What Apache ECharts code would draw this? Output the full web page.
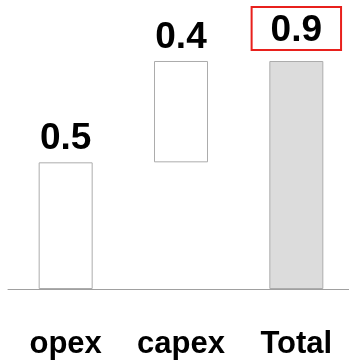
<!DOCTYPE html>
<html>
<head>
<meta charset="utf-8">
<script src="https://cdn.jsdelivr.net/npm/echarts@6/dist/echarts.min.js"></script>
<style>
  html, body { margin: 0; padding: 0; background: #fff; overflow: hidden; }
  #chart { width: 354px; height: 363px; }
</style>
</head>
<body>
<div id="chart"></div>
<script>
// Cost breakdown waterfall
const categories = ['opex', 'capex', 'Total'];
const amounts = [0.5, 0.4, 0.9];
const isTotal = [false, false, true];

// Invisible offset under each step: running sum for steps, zero for totals
const offsets = [];
let running = 0;
amounts.forEach(function (v, i) {
  if (isTotal[i]) {
    offsets.push(0);
  } else {
    offsets.push(running);
    running += v;
  }
});

const FONT = '"Liberation Sans", Arial, Helvetica, sans-serif';

const chart = echarts.init(document.getElementById('chart'), null, { renderer: 'canvas' });

chart.setOption({
  animation: false,
  backgroundColor: '#ffffff',
  grid: { left: 8, right: 0, top: 61, bottom: 74, containLabel: false },
  xAxis: {
    type: 'category',
    data: categories,
    axisLine: { show: true, lineStyle: { color: '#a0a0a0', width: 1 } },
    axisTick: { show: false },
    axisLabel: {
      interval: 0,
      hideOverlap: false,
      color: '#000',
      fontFamily: FONT,
      fontWeight: 'bold',
      fontSize: 31,
      lineHeight: 31,
      margin: 40
    }
  },
  yAxis: {
    type: 'value',
    min: 0,
    max: 0.9,
    show: false,
    splitLine: { show: false }
  },
  series: [
    {
      type: 'bar',
      stack: 'wf',
      data: offsets,
      barWidth: 54,
      itemStyle: { color: 'transparent', borderColor: 'transparent' },
      silent: true
    },
    {
      type: 'bar',
      stack: 'wf',
      barWidth: 54,
      data: amounts.map(function (v, i) {
        const item = {
          value: v,
          itemStyle: {
            color: isTotal[i] ? '#dcdcdc' : '#ffffff',
            borderColor: '#acacac',
            borderWidth: 1
          }
        };
        if (isTotal[i]) {
          item.label = {
            borderColor: '#e8201c',
            borderWidth: 2,
            padding: [5, 19, 1, 19],
            distance: 11
          };
        }
        return item;
      }),
      label: {
        show: true,
        position: 'top',
        distance: 5,
        color: '#000',
        fontFamily: FONT,
        fontWeight: 'bold',
        fontSize: 37,
        lineHeight: 37,
        formatter: function (p) { return p.value.toFixed(1); }
      }
    }
  ]
});
</script>
</body>
</html>
